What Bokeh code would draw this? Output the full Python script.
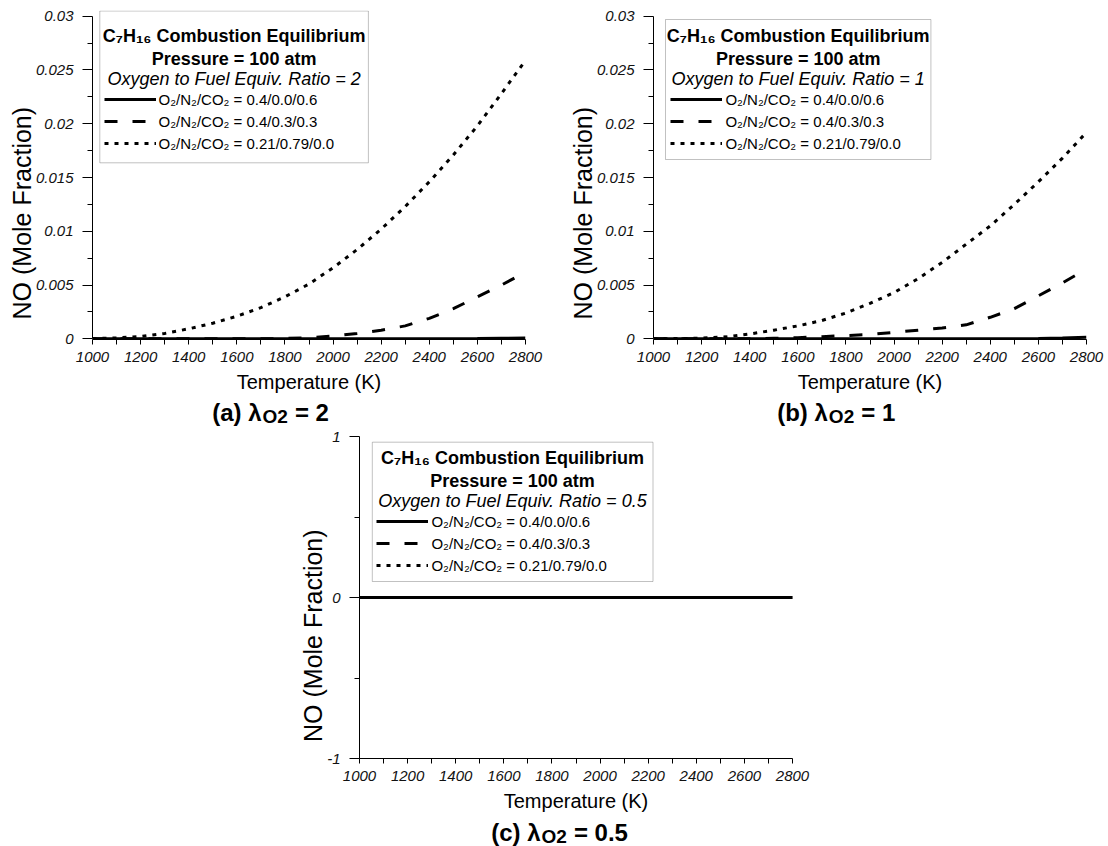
from bokeh.plotting import figure
from bokeh.models import Range1d, BoxAnnotation, Label, Legend, LegendItem, FixedTicker, Spacer
from bokeh.layouts import column, row
from bokeh.embed import file_html
from bokeh.resources import INLINE

# ---------------- data ----------------
temperature = [1000, 1100, 1200, 1300, 1400, 1500, 1600, 1700, 1800, 1900,
               2000, 2100, 2200, 2300, 2400, 2500, 2600, 2700, 2800]

series_labels = ["O\u2082/N\u2082/CO\u2082 = 0.4/0.0/0.6",
                 "O\u2082/N\u2082/CO\u2082 = 0.4/0.3/0.3",
                 "O\u2082/N\u2082/CO\u2082 = 0.21/0.79/0.0"]

# (a) oxygen to fuel equivalence ratio = 2
a_solid = [0, 0, 0, 0, 0, 0, 0, 0, 0, 0, 0, 0, 0, 0, 0, 0.00001, 0.00002, 0.00005, 0.00008]
a_dash = [0, 0, 0, 0, 0, 0, 0, 0, 0.00003, 0.0001, 0.00025, 0.0005, 0.0008, 0.0012, 0.0019,
          0.0028, 0.0039, 0.0050, 0.0062]
a_dot = [0.00003, 0.00008, 0.00022, 0.00050, 0.00093, 0.00145, 0.0021, 0.0029, 0.0039, 0.0051,
         0.0066, 0.0083, 0.0102, 0.0123, 0.0146, 0.0171, 0.0198, 0.0228, 0.0259]

# (b) ratio = 1
b_solid = [0, 0, 0, 0, 0, 0, 0, 0, 0, 0, 0, 0, 0, 0, 0, 0, 0.00003, 0.00007, 0.00015]
b_dash = [0, 0, 0, 0, 0, 0.00005, 0.0001, 0.0002, 0.0003, 0.0004, 0.0006, 0.0008, 0.001,
          0.0013, 0.002, 0.0028, 0.004, 0.0052, 0.0065]
b_dot = [0.0, 0.00002, 0.00006, 0.00018, 0.00045, 0.0008, 0.0012, 0.0017, 0.0024, 0.0033,
         0.0043, 0.0056, 0.0071, 0.0088, 0.0105, 0.0125, 0.0146, 0.0168, 0.0192]

# (c) ratio = 0.5
c_solid = [0, 0, 0, 0, 0, 0, 0, 0, 0, 0, 0, 0, 0, 0, 0, 0, 0, 0, 0]
c_dash = [0, 0, 0, 0, 0, 0, 0, 0, 0, 0, 0, 0, 0, 0, 0, 0, 0, 0, 0]
c_dot = [0, 0, 0, 0, 0, 0, 0, 0, 0, 0, 0, 0, 0, 0, 0, 0, 0, 0, 0]

x_ticks = [1000, 1200, 1400, 1600, 1800, 2000, 2200, 2400, 2600, 2800]
x_tick_labels = ["1000", "1200", "1400", "1600", "1800", "2000", "2200", "2400", "2600", "2800"]
x_minor = [1100, 1300, 1500, 1700, 1900, 2100, 2300, 2500, 2700]

top_y_ticks = [0, 0.005, 0.01, 0.015, 0.02, 0.025, 0.03]
top_y_labels = ["0", "0.005", "0.01", "0.015", "0.02", "0.025", "0.03"]
top_y_minor = [0.0025, 0.0075, 0.0125, 0.0175, 0.0225, 0.0275]

c_y_ticks = [-1, 0, 1]
c_y_labels = ["-1", "0", "1"]
c_y_minor = [-0.5, 0.5]

header_title = "C\u2087H\u2081\u2086 Combustion Equilibrium"
header_pressure = "Pressure = 100 atm"
ratio_lines = ["Oxygen to Fuel Equiv. Ratio = 2",
               "Oxygen to Fuel Equiv. Ratio = 1",
               "Oxygen to Fuel Equiv. Ratio = 0.5"]
caption_heads = ["(a) \u03bb", "(b) \u03bb", "(c) \u03bb"]
caption_sub = "O2"
caption_tails = ["= 2", "= 1", "= 0.5"]
x_title = "Temperature (K)"
y_title = "NO (Mole Fraction)"

FONT = "Liberation Sans"
DASHES = ["solid", "13 15", "4 6"]
# the printed y title sits lower than the frame centre: pad its end with no-break spaces
Y_TITLE_PAD = "\u00a0" * 11


class Geom:
    def __init__(self, fig_x, fig_y, width, height, fl, ft, fw, fh, y0, y1):
        self.fig_x, self.fig_y = fig_x, fig_y
        self.width, self.height = width, height
        self.fl, self.ft, self.fw, self.fh = fl, ft, fw, fh
        self.y0, self.y1 = y0, y1

    def X(self, px):
        return 1000 + (px - self.fl) / self.fw * 1800.0

    def Y(self, py):
        return self.y1 - (py - self.ft) / self.fh * (self.y1 - self.y0)


def make_panel(g, ys, yticks, ylabels, yminor, ybounds, ratio_text,
               box, header_cx, header_ys, glyph_x, item_top):
    p = figure(width=g.width, height=g.height,
               x_range=Range1d(1000, 2800), y_range=Range1d(g.y0, g.y1),
               output_backend="svg", toolbar_location=None,
               min_border_left=g.fl - g.fig_x, min_border_top=g.ft - g.fig_y,
               min_border_right=g.width - (g.fl - g.fig_x) - g.fw,
               min_border_bottom=g.height - (g.ft - g.fig_y) - g.fh)
    p.outline_line_color = None
    p.xgrid.visible = False
    p.ygrid.visible = False
    p.background_fill_color = "white"
    p.border_fill_color = "white"

    xa = p.xaxis[0]
    xa.ticker = FixedTicker(ticks=x_ticks, minor_ticks=x_minor)
    xa.major_label_overrides = {t: l for t, l in zip(x_ticks, x_tick_labels)}
    xa.axis_label = x_title
    ya = p.yaxis[0]
    ya.ticker = FixedTicker(ticks=yticks, minor_ticks=yminor)
    ya.major_label_overrides = {t: l for t, l in zip(yticks, ylabels)}
    ya.axis_label = y_title + Y_TITLE_PAD
    ya.bounds = ybounds
    for ax in (xa, ya):
        ax.axis_line_color = "black"
        ax.axis_line_width = 1
        ax.major_tick_line_color = "black"
        ax.minor_tick_line_color = "black"
        ax.major_tick_in = 0
        ax.minor_tick_in = 0
        ax.major_label_text_font = FONT
        ax.major_label_text_font_style = "italic"
        ax.major_label_text_font_size = "15px"
        ax.major_label_text_color = "#111111"
        ax.axis_label_text_font = FONT
        ax.axis_label_text_font_style = "normal"
        ax.axis_label_text_color = "black"
    xa.axis_label_text_font_size = "20px"
    ya.axis_label_text_font_size = "25px"
    xa.major_tick_out = 5
    xa.minor_tick_out = 5
    xa.major_label_standoff = 7
    xa.axis_label_standoff = 6
    ya.major_tick_out = 10
    ya.minor_tick_out = 5
    ya.major_label_standoff = 9
    ya.axis_label_standoff = -3

    rends = []
    for vals, dash in zip(ys, DASHES):
        r = p.line(temperature, vals, line_color="black", line_width=3, line_dash=dash)
        rends.append(r)

    bl, br, bt, bb = box
    p.add_layout(BoxAnnotation(left=g.X(bl), right=g.X(br), top=g.Y(bt), bottom=g.Y(bb),
                               fill_color="white", fill_alpha=1.0,
                               line_color="#333333", line_width=1))
    texts = [(header_title, "bold"), (header_pressure, "bold"), (ratio_text, "italic")]
    for (t, st), hy in zip(texts, header_ys):
        p.add_layout(Label(x=g.X(header_cx), y=g.Y(hy), text=t, text_align="center",
                           text_baseline="middle", text_font=FONT, text_font_style=st,
                           text_font_size="18px", text_color="black"))
    pitch_h, spacing = 20, 2
    leg_h = 3 * pitch_h + 2 * spacing
    frame_bottom = g.ft + g.fh
    legend = Legend(items=[LegendItem(label=l, renderers=[r]) for l, r in zip(series_labels, rends)],
                    location=(glyph_x - g.fl, frame_bottom - (item_top + leg_h)),
                    glyph_width=52, glyph_height=pitch_h, label_height=pitch_h,
                    spacing=spacing, padding=0, margin=0, label_standoff=3,
                    border_line_color=None, background_fill_alpha=0,
                    label_text_font=FONT, label_text_font_size="15px",
                    label_text_color="black")
    p.add_layout(legend)
    return p


def make_caption(width, height, head, tail, x0, cy):
    """Caption strip drawn on its own small canvas; cy is measured from its bottom edge."""
    c = figure(width=width, height=height, x_range=Range1d(0, width), y_range=Range1d(0, height),
               x_axis_type=None, y_axis_type=None, output_backend="svg",
               toolbar_location=None, min_border=0)
    c.outline_line_color = None
    c.xgrid.visible = False
    c.ygrid.visible = False
    c.background_fill_color = "white"
    c.border_fill_color = "white"
    head_size, sub_size = 24, 19
    head_w = {"(a) \u03bb": 2.056, "(b) \u03bb": 2.111, "(c) \u03bb": 2.056}[head] * head_size
    sub_w = 1.334 * sub_size
    c.add_layout(Label(x=x0, y=cy, text=head, text_align="left", text_baseline="middle",
                       text_font=FONT, text_font_style="bold", text_font_size=f"{head_size}px",
                       text_color="black"))
    c.add_layout(Label(x=x0 + head_w + 1, y=cy - 4, text=caption_sub, text_align="left",
                       text_baseline="middle", text_font=FONT, text_font_style="bold",
                       text_font_size=f"{sub_size}px", text_color="black"))
    c.add_layout(Label(x=x0 + head_w + sub_w + 8, y=cy, text=tail, text_align="left",
                       text_baseline="middle", text_font=FONT, text_font_style="bold",
                       text_font_size=f"{head_size}px", text_color="black"))
    return c


# top-row vertical mapping: 0 at y 338.3, 0.03 at y 15.7; frame spans 10..339
k_top = 322.6 / 0.03
top_y0 = -(339 - 338.3) / k_top
top_y1 = 0.03 + (15.7 - 10) / k_top

ga = Geom(0, 0, 556, 398, 92, 10, 433, 329, top_y0, top_y1)
gb = Geom(556, 0, 552, 398, 653, 10, 433, 329, top_y0, top_y1)
gc = Geom(250, 426, 564, 392, 359, 436, 433, 322, -1, 1)

pa = make_panel(ga, [a_solid, a_dash, a_dot], top_y_ticks, top_y_labels, top_y_minor, (0, 0.03),
                ratio_lines[0], (99.3, 367.9, 10.5, 162.3), 233.6, (35.7, 58.3, 78.3), 103.6, 89)
pb = make_panel(gb, [b_solid, b_dash, b_dot], top_y_ticks, top_y_labels, top_y_minor, (0, 0.03),
                ratio_lines[1], (665, 930.4, 19, 159), 797.7, (35.7, 58.3, 78.3), 670.4, 89)
pc = make_panel(gc, [c_solid, c_dash, c_dot], c_y_ticks, c_y_labels, c_y_minor, (-1, 1),
                ratio_lines[2], (371.8, 652.5, 441.7, 581), 512.0, (457.3, 480.7, 500.7), 376.4, 511)

# caption strips: top row 398..426, bottom 818..846
cap_a = make_caption(556, 28, caption_heads[0], caption_tails[0], 211.7, 426 - 412)
cap_b = make_caption(552, 28, caption_heads[1], caption_tails[1], 776.7 - 556, 426 - 412)
cap_c = make_caption(564, 28, caption_heads[2], caption_tails[2], 490.7 - 250, 846 - 831.7)

layout = column(row(pa, pb), row(cap_a, cap_b),
                row(Spacer(width=250, height=392), pc),
                row(Spacer(width=250, height=28), cap_c))

open("out.html", "w").write(file_html(layout, INLINE, "NO mole fraction"))
